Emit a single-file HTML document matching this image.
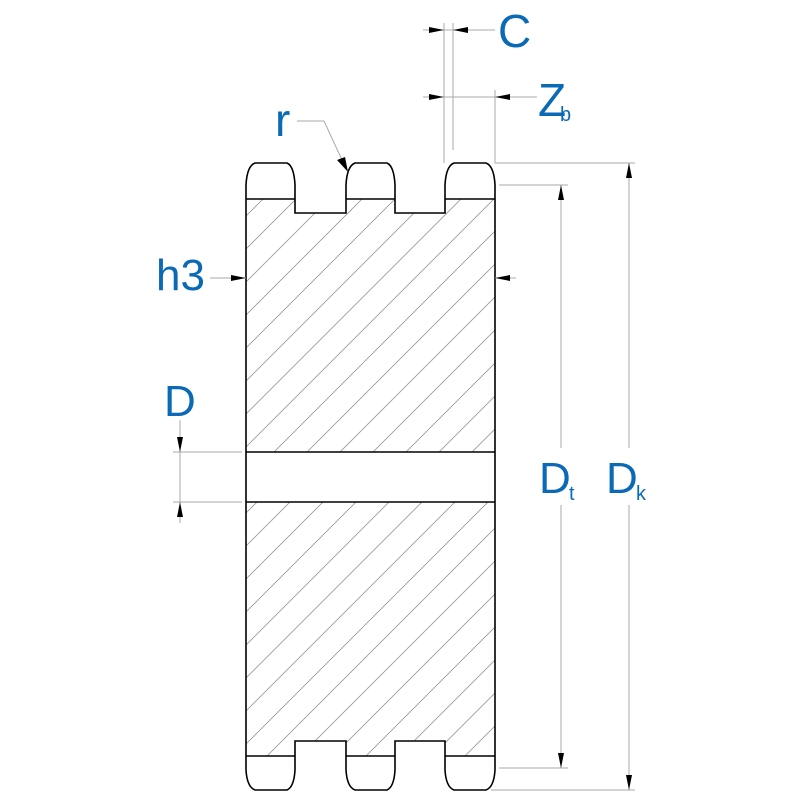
<!DOCTYPE html>
<html><head><meta charset="utf-8"><style>html,body{margin:0;padding:0;background:#fff}svg{display:block}</style></head>
<body>
<svg width="800" height="800" viewBox="0 0 800 800" xmlns="http://www.w3.org/2000/svg">
<defs>
<pattern id="h" patternUnits="userSpaceOnUse" width="33" height="33" x="0" y="0">
<path d="M0,33 L33,0 M-2,2 L2,-2 M31,35 L35,31" stroke="#999" stroke-width="0.8"/>
</pattern>
</defs>
<path d="M246,199 L295,199 L295,213 L346,213 L346,199 L395,199 L395,213 L445,213 L445,199 L495,199 L495,452 L246,452 Z" fill="url(#h)"/>
<path d="M246,502 L495,502 L495,756 L445,756 L445,741 L395,741 L395,756 L346,756 L346,741 L295,741 L295,756 L246,756 Z" fill="url(#h)"/>
<g fill="none" stroke="#000" stroke-width="1.6">
<path d="M246,199 L246,185 Q247,166 255,163 L287,163 Q294,166 295,185 L295,213 L346,213 L346,185 Q347,166 355,163 L387,163 Q394,166 395,185 L395,213 L445,213 L445,185 Q446,166 454,163 L486,163 Q494,166 495,185 L495,770 Q494,787 486,790 L454,790 Q446,787 445,770 L445,741 L395,741 L395,770 Q394,787 387,790 L355,790 Q347,787 346,770 L346,741 L295,741 L295,770 Q294,787 287,790 L255,790 Q247,787 246,770 Z"/>
<path d="M246,199 L295,199 M346,199 L395,199 M445,199 L495,199 M246,756 L295,756 M346,756 L395,756 M445,756 L495,756 M246,452 L495,452 M246,502 L495,502"/>
</g>
<g stroke="#aaa" stroke-width="1" fill="none">
<path d="M444,23 L444,163 M453,23 L453,150 M423,30 L495,30"/>
<path d="M495,90 L495,163 M423,97 L537,97"/>
<path d="M495,163 L635,163 M499,185 L568,185 M499,768 L568,768 M491,790 L635,790"/>
<path d="M561,185 L561,448 M561,505 L561,768 M629,163 L629,448 M629,505 L629,790"/>
<path d="M173,452 L242,452 M173,502 L242,502 M180,420 L180,523"/>
<path d="M210,278 L246,278 M495,278 L516,278"/>
<path d="M297,121 L324,121 L342,160"/>
</g>
<g fill="#000">
<path d="M429,27 L444,30 L429,33 Z M468,27 L453,30 L468,33 Z"/>
<path d="M429,94 L444,97 L429,100 Z M510,94 L495,97 L510,100 Z"/>
<path d="M558,200 L561,185 L564,200 Z M558,753 L561,768 L564,753 Z"/>
<path d="M626,178 L629,163 L632,178 Z M626,775 L629,790 L632,775 Z"/>
<path d="M177,437 L180,452 L183,437 Z M177,517 L180,502 L183,517 Z"/>
<path d="M231,275 L246,278 L231,281 Z M510,275 L495,278 L510,281 Z"/>
<path d="M337,160 L348,172 L345,157 Z"/>
</g>
<g fill="#0a6ab5" font-family="'Liberation Sans',sans-serif">
<text x="498" y="47" font-size="46">C</text>
<text x="538" y="116" font-size="46">Z</text><text x="560" y="121" font-size="20">b</text>
<text x="275" y="136" font-size="46">r</text>
<text x="156" y="290" font-size="44">h3</text>
<text x="164" y="416" font-size="44">D</text>
<text x="539" y="493" font-size="44">D</text><text x="569" y="500" font-size="20">t</text>
<text x="606" y="493" font-size="44">D</text><text x="636" y="500" font-size="20">k</text>
</g>
</svg>
</body></html>
